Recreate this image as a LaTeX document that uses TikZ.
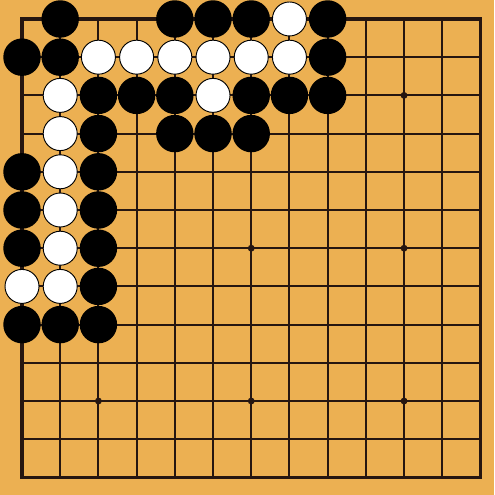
\documentclass[tikz,border=0pt]{standalone}
\usepackage{tikz}
\usepackage{xcolor}
\definecolor{boardwood}{RGB}{236,176,82}
\definecolor{gridline}{RGB}{38,22,16}

\begin{document}
\begin{tikzpicture}[x=1cm,y=-1cm,
  gridrule/.style={draw=gridline,line width=1.4pt},
  blackstone/.style={fill=black},
  whitestone/.style={fill=white,draw=black,line width=0.7pt}]
\fill[boardwood] (-0.576,-0.497) rectangle (12.356,12.46);
\useasboundingbox (-0.576,-0.497) rectangle (12.356,12.46);
% grid
\foreach \i in {1,...,11} {
  \draw[gridrule] (\i,0) -- (\i,12);
  \draw[gridrule] (0,\i) -- (12,\i);
}
\draw[gridrule,line width=2.4pt,line join=miter] (0,0) rectangle (12,12);
% star points
\foreach \c in {2,6,10}
  \foreach \r in {2,6,10}
    \fill[gridline] (\c,\r) circle (0.09);
% black stones
\foreach \c/\r in {1/0,4/0,5/0,6/0,8/0,
  0/1,1/1,8/1,
  2/2,3/2,4/2,6/2,7/2,8/2,
  2/3,4/3,5/3,6/3,
  0/4,2/4,0/5,2/5,0/6,2/6,2/7,
  0/8,1/8,2/8}
  \fill[blackstone] (\c,\r) circle (0.49);
% white stones
\foreach \c/\r in {7/0,
  2/1,3/1,4/1,5/1,6/1,7/1,
  1/2,5/2,1/3,1/4,1/5,1/6,
  0/7,1/7}
  \filldraw[whitestone] (\c,\r) circle (0.445);
\end{tikzpicture}
\end{document}
